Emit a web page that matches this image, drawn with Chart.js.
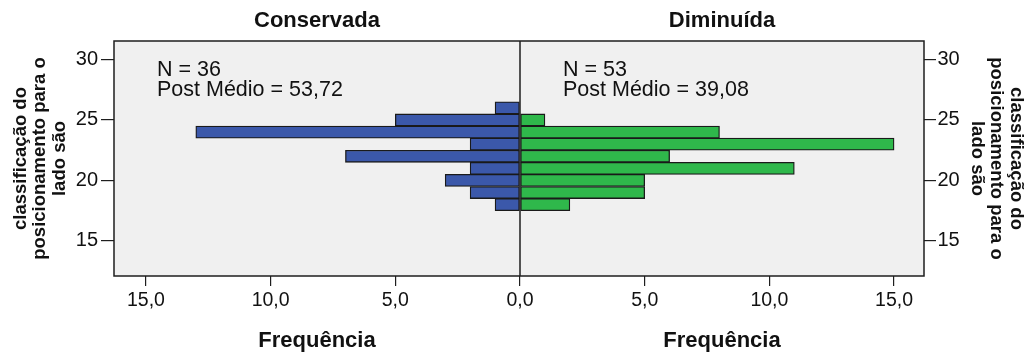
<!DOCTYPE html>
<html>
<head>
<meta charset="utf-8">
<script src="https://cdn.jsdelivr.net/npm/chart.js@4.4.1/dist/chart.umd.min.js"></script>
<style>
  html, body { margin: 0; padding: 0; background: #ffffff; }
  canvas { display: block; }
</style>
</head>
<body>
<canvas id="pyramid" width="1026" height="356"></canvas>
<script>
// Score levels (bin centres) and counts per group
const scoreLevels = [18, 19, 20, 21, 22, 23, 24, 25, 26];
const conservadaCounts = [1, 2, 3, 2, 7, 2, 13, 5, 1];
const diminuidaCounts = [2, 5, 5, 11, 6, 15, 8, 1, 0];

const groupNames = ['Conservada', 'Diminuída'];
const postMedio = ['53,72', '39,08'];

const freqTicks = [-15, -10, -5, 0, 5, 10, 15];
const scoreTicks = [15, 20, 25, 30];
const scoreTitle = ['classificação do', 'posicionamento para o', 'lado são'];
const freqTitle = 'Frequência';

const sum = arr => arr.reduce((a, b) => a + b, 0);
const nTotals = [sum(conservadaCounts), sum(diminuidaCounts)];

// left half is drawn with negative frequencies, right half positive
const toPoints = (counts, sign) => scoreLevels
  .map((y, i) => ({ x: sign * counts[i], y }))
  .filter(p => p.x !== 0);

const fmtFreq = v => Math.abs(v).toFixed(1).replace('.', ',');

const TEXT = '#111111';
const FONT = '"Liberation Sans", Arial, sans-serif';

const panelPlugin = {
  id: 'panelDecor',
  beforeDatasetsDraw(chart) {
    const { ctx, chartArea: a } = chart;
    ctx.save();
    ctx.fillStyle = '#f0f0f0';
    ctx.fillRect(a.left, a.top, a.right - a.left, a.bottom - a.top);
    ctx.restore();
  },
  afterDatasetsDraw(chart) {
    const { ctx, chartArea: a, scales } = chart;
    const zero = scales.x.getPixelForValue(0);
    const centers = [(a.left + zero) / 2, (zero + a.right) / 2];
    const starts = [a.left, zero];

    ctx.save();
    // frame and centre divider
    ctx.strokeStyle = '#1e1e1e';
    ctx.lineWidth = 1.5;
    ctx.strokeRect(a.left, a.top, a.right - a.left, a.bottom - a.top);
    ctx.beginPath();
    ctx.moveTo(zero, a.top);
    ctx.lineTo(zero, a.bottom);
    ctx.stroke();

    ctx.fillStyle = TEXT;
    // group titles above each half
    ctx.font = 'bold 22px ' + FONT;
    ctx.textAlign = 'center';
    ctx.textBaseline = 'alphabetic';
    groupNames.forEach((name, i) => ctx.fillText(name, centers[i], 27));

    // frequency titles below each half
    groupNames.forEach((_, i) => ctx.fillText(freqTitle, centers[i], 347));

    // sample size and mean inside each half
    ctx.font = '21.5px ' + FONT;
    ctx.textAlign = 'left';
    groupNames.forEach((_, i) => {
      ctx.fillText('N = ' + nTotals[i], starts[i] + 43, a.top + 35);
      ctx.fillText('Post Médio = ' + postMedio[i], starts[i] + 43, a.top + 55);
    });
    ctx.restore();
  }
};

const yCommon = {
  type: 'linear',
  min: 12.1,
  max: 31.53,
  offset: false,
  afterBuildTicks: s => { s.ticks = scoreTicks.map(v => ({ value: v })); },
  grid: { offset: false, drawOnChartArea: false, drawTicks: true, color: '#1e1e1e', lineWidth: 1.2 },
  border: { display: false },
  ticks: { color: TEXT, font: { family: FONT, size: 20 } },
  title: {
    display: true,
    text: scoreTitle,
    color: TEXT,
    font: { family: FONT, size: 18.5, weight: 'bold', lineHeight: 1.05 }
  }
};

new Chart(document.getElementById('pyramid'), {
  type: 'bar',
  data: {
    datasets: [
      {
        label: groupNames[0],
        data: toPoints(conservadaCounts, -1),
        backgroundColor: '#3b58aa',
        borderColor: '#1a1a1a',
        borderWidth: 1.3,
        borderSkipped: false,
        grouped: false,
        barPercentage: 1,
        categoryPercentage: 1
      },
      {
        label: groupNames[1],
        data: toPoints(diminuidaCounts, 1),
        backgroundColor: '#2fb84b',
        borderColor: '#1a1a1a',
        borderWidth: 1.3,
        borderSkipped: false,
        grouped: false,
        barPercentage: 1,
        categoryPercentage: 1
      }
    ]
  },
  options: {
    indexAxis: 'y',
    responsive: false,
    animation: false,
    devicePixelRatio: 1,
    layout: { padding: { top: 41, left: 0, right: 0, bottom: 0 } },
    plugins: { legend: { display: false }, tooltip: { enabled: false } },
    scales: {
      x: {
        type: 'linear',
        min: -16.28,
        max: 16.2,
        afterBuildTicks: s => { s.ticks = freqTicks.map(v => ({ value: v })); },
        afterFit: s => { s.height = 80; },
        grid: { drawOnChartArea: false, drawTicks: true, tickLength: 10, color: '#1e1e1e', lineWidth: 1.2 },
        border: { display: false },
        ticks: {
          color: TEXT,
          padding: 3,
          maxRotation: 0,
          font: { family: FONT, size: 19.5 },
          callback: v => fmtFreq(v)
        }
      },
      y: Object.assign({}, yCommon, {
        position: 'left',
        afterFit: s => { s.width = 114; },
        grid: Object.assign({}, yCommon.grid, { tickLength: 13 }),
        ticks: Object.assign({}, yCommon.ticks, { padding: 3 }),
        title: Object.assign({}, yCommon.title, { padding: { top: 11, bottom: 0 } })
      }),
      y2: Object.assign({}, yCommon, {
        position: 'right',
        afterFit: s => { s.width = 102; },
        grid: Object.assign({}, yCommon.grid, { tickLength: 12 }),
        ticks: Object.assign({}, yCommon.ticks, { padding: 1.5 }),
        title: Object.assign({}, yCommon.title, { padding: { top: 0.5, bottom: 0 } })
      })
    }
  },
  plugins: [panelPlugin]
});
</script>
</body>
</html>
